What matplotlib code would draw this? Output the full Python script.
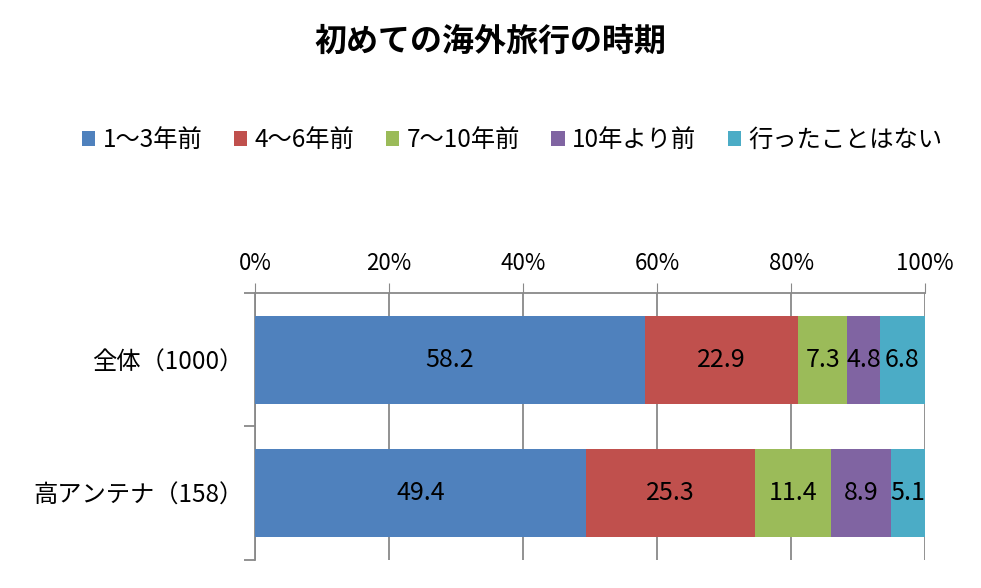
import matplotlib.pyplot as plt
import numpy as np
from matplotlib.ticker import FixedLocator, PercentFormatter

plt.rcParams['font.family'] = ['Noto Sans CJK JP', 'DejaVu Sans']

# data
groups = ["全体（1000）", "高アンテナ（158）"]
series = ["1～3年前", "4～6年前", "7～10年前", "10年より前", "行ったことはない"]
v_13 = [58.2, 49.4]
v_46 = [22.9, 25.3]
v_710 = [7.3, 11.4]
v_10p = [4.8, 8.9]
v_none = [6.8, 5.1]
values = [v_13, v_46, v_710, v_10p, v_none]
colors = ["#4F81BD", "#C0504D", "#9BBB59", "#8064A2", "#4BACC6"]

fig = plt.figure(figsize=(9.81, 5.88), dpi=100)
ax = fig.add_axes([0.26, 0.048, 0.683, 0.454])

y = np.arange(len(groups))
tot = np.array([sum(v[i] for v in values) for i in range(len(groups))])
left = np.zeros(len(groups))
for name, vals, col in zip(series, values, colors):
    vals = np.array(vals)
    w = vals / tot
    ax.barh(y, w, left=left, height=0.66, color=col, label=name, zorder=3)
    for yi, li, wi, vi in zip(y, left, w, vals):
        ax.text(li + wi / 2, yi, f"{vi:.1f}", ha='center', va='center',
                fontsize=18, color='black', zorder=4)
    left = left + w

ax.set_xlim(0, 1)
ax.set_ylim(1.5, -0.5)
ax.xaxis.tick_top()
ax.set_xticks(np.arange(0, 1.01, 0.2))
ax.xaxis.set_major_formatter(PercentFormatter(1.0, decimals=0))
ax.tick_params(axis='x', length=7, color='#898989', labelsize=16, pad=6)
ax.grid(axis='x', color='#898989', linewidth=1.3, zorder=0)

ax.set_yticks(y)
ax.set_yticklabels(groups, fontsize=17.5)
ax.tick_params(axis='y', which='major', length=0, pad=8)
ax.yaxis.set_minor_locator(FixedLocator([-0.5, 0.5, 1.5]))
ax.tick_params(axis='y', which='minor', length=8, color='#898989', width=1.3)

for s in ['right', 'bottom']:
    ax.spines[s].set_visible(False)
for s in ['top', 'left']:
    ax.spines[s].set_color('#898989')
    ax.spines[s].set_linewidth(1.3)

fig.text(0.5, 0.929, "初めての海外旅行の時期", ha='center', va='center',
         fontsize=23, fontweight='bold')

fig.legend(loc='center', bbox_to_anchor=(0.522, 0.762), ncol=5, frameon=False,
           fontsize=17.5, handlelength=0.55, handleheight=0.55, handletextpad=0.3,
           columnspacing=1.3)

fig.savefig("out.png", dpi=100)
